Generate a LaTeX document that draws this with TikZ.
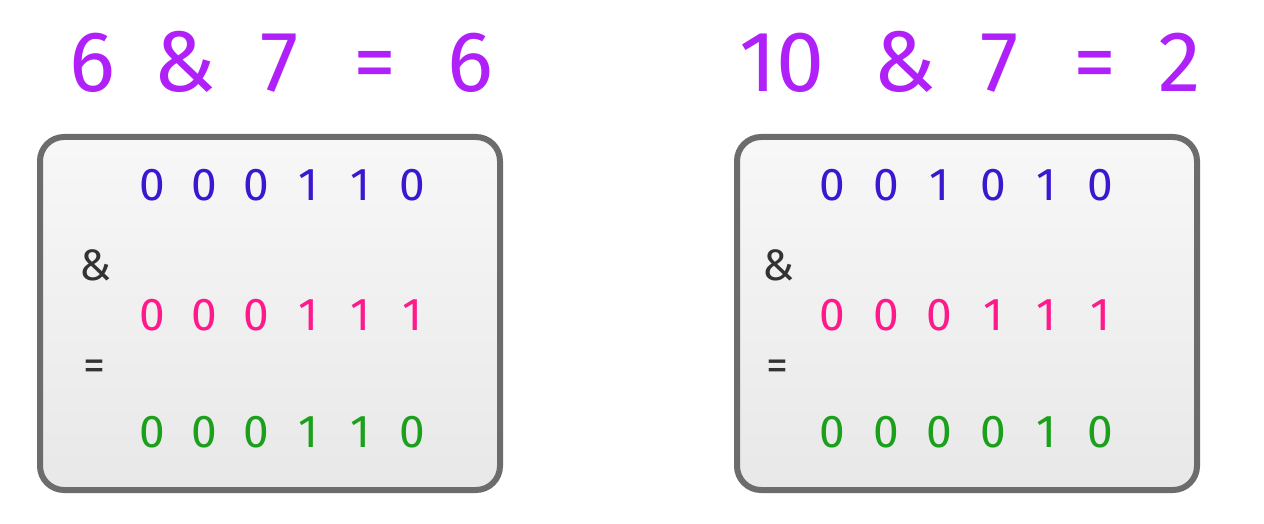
\documentclass[tikz,border=0pt]{standalone}
\usepackage{fontspec}
\setmainfont{Fira Sans}
\definecolor{ttl}{HTML}{B020F8}
\definecolor{bl}{HTML}{3A18D0}
\definecolor{pk}{HTML}{FF1A8C}
\definecolor{gr}{HTML}{1AA01A}
\definecolor{dk}{HTML}{333333}
\begin{document}
\begin{tikzpicture}[x=1pt,y=-1pt,
  card/.style={draw=gray!85!black,line width=6pt,rounded corners=24pt,top color=gray!6,bottom color=gray!18},
  ttlt/.style={font=\fontsize{86}{86}\selectfont,text=ttl,inner sep=0pt,anchor=base},
  dig/.style={font=\fontsize{46}{46}\selectfont,inner sep=0pt},
  op/.style={font=\fontsize{44}{44}\selectfont,text=dk,inner sep=0pt,anchor=base}]
\useasboundingbox (0,0) rectangle (1264,524);
\fill[white] (0,0) rectangle (1264,524);
\foreach \t/\x [count=\i] in {6/92,\&/185,7/280,=/375,6/470} \node[ttlt] (ta\i) at (\x,92) {\t};
\foreach \t/\x [count=\i] in {10/782,\&/905,7/1000,=/1095,2/1180} \node[ttlt] (tb\i) at (\x,92) {\t};
\draw[card] (40,137) rectangle (500,490);
\draw[card] (737,137) rectangle (1197,490);
\node[op] (a1) at (96,280) {\&};
\node[op] (e1) at (94,380) {=};
\node[op] (a2) at (779,280) {\&};
\node[op] (e2) at (777,380) {=};
\foreach \d [count=\i] in {0,0,0,1,1,0} \node[dig,text=bl] (l1\i) at (100+52*\i,185) {\d};
\foreach \d [count=\i] in {0,0,0,1,1,1} \node[dig,text=pk] (l2\i) at (100+52*\i,315) {\d};
\foreach \d [count=\i] in {0,0,0,1,1,0} \node[dig,text=gr] (l3\i) at (100+52*\i,432) {\d};
\foreach \d [count=\i] in {0,0,1,0,1,0} \node[dig,text=bl] (r1\i) at (779+53.5*\i,185) {\d};
\foreach \d [count=\i] in {0,0,0,1,1,1} \node[dig,text=pk] (r2\i) at (779+53.5*\i,315) {\d};
\foreach \d [count=\i] in {0,0,0,0,1,0} \node[dig,text=gr] (r3\i) at (779+53.5*\i,432) {\d};
\end{tikzpicture}
\end{document}
